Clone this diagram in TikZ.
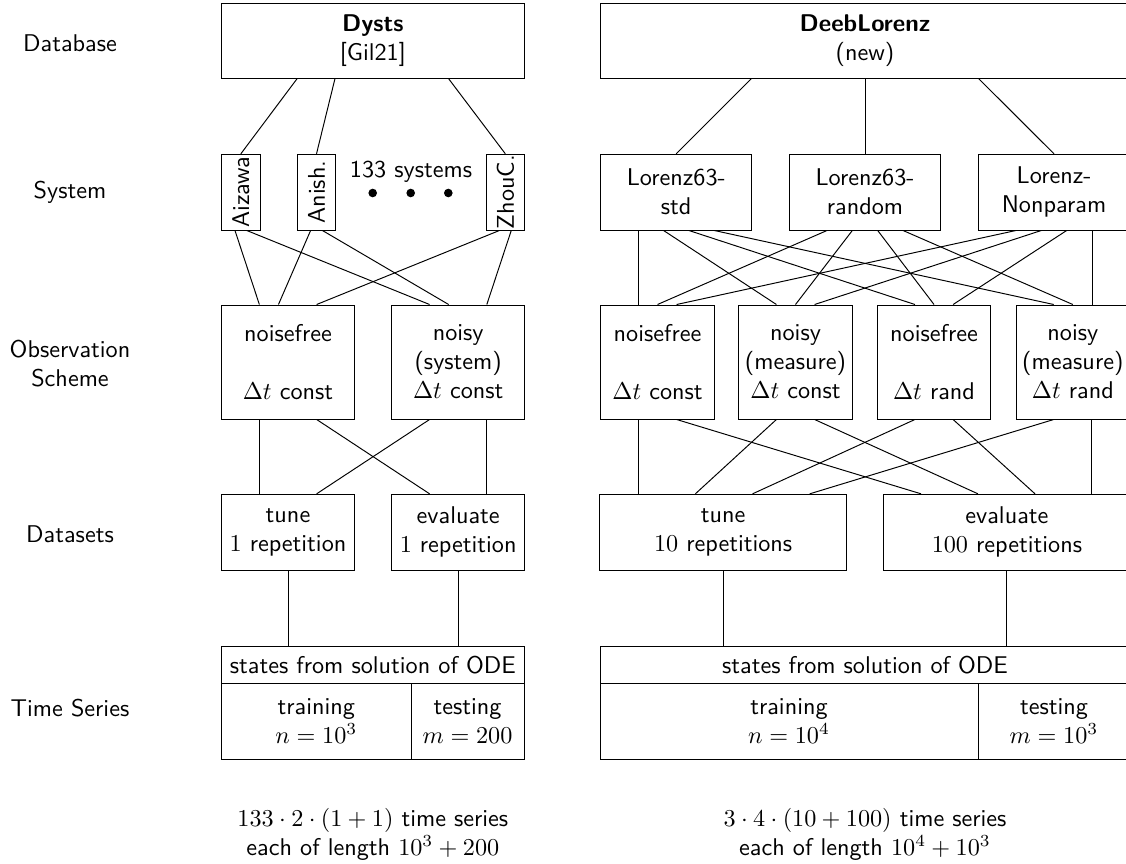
\documentclass[tikz,border=0pt]{standalone}
\usepackage{graphicx}
\usetikzlibrary{calc}
\newcommand{\myln}[4]{\draw ($(#1.south west)!#2!(#1.south east)$) -- ($(#3.north west)!#4!(#3.north east)$);}
\newcommand{\myvln}[3]{\draw ($(#1.south west)!#2!(#1.south east)$) coordinate (tmpc) -- (tmpc |- #3.north);}
\begin{document}
\begin{tikzpicture}[x=0.413pt, y=-0.413pt, font=\sffamily,
  bx/.style={draw, rectangle, inner sep=0pt, align=center},
  sz/.style 2 args={minimum width=#1*0.413pt, minimum height=#2*0.413pt},
  lbl/.style={align=center, inner sep=0pt}]
\useasboundingbox (0,0) rectangle (1126,863);

% row labels
\node[lbl] (rDB) at (70,43) {Database};
\node[lbl] (rSys) at (70,192) {System};
\node[lbl] (rObs) at (70,364) {Observation\\ Scheme};
\node[lbl] (rDS) at (70,534) {Datasets};
\node[lbl] (rTS) at (70,708) {Time Series};

% left column
\node[bx, sz={302.3}{75.3}] (dysts) at (372.85,40.65) {\textbf{Dysts}\\ {[Gil21]}};
\node[bx, sz={38.3}{75.7}] (aiz) at (240.85,192.15) {\rotatebox{90}{Aizawa}};
\node[bx, sz={38.3}{75.7}] (ani) at (316.5,192.15) {\rotatebox{90}{Anish.}};
\node[bx, sz={38.3}{75.7}] (zho) at (505.35,192.15) {\rotatebox{90}{ZhouC.}};
\node[lbl] (nsys) at (411,172) {133 systems};
\fill (372.7,193) circle[radius=4.3];
\fill (410.7,193) circle[radius=4.3];
\fill (448.3,193) circle[radius=4.3];
\node[bx, sz={132.6}{114}] (nfL) at (288,362) {noisefree\\ \mbox{}\\ $\Delta t$ const};
\node[bx, sz={132.6}{114}] (nyL) at (458.2,362) {noisy\\ (system)\\ $\Delta t$ const};
\node[bx, sz={132.6}{75.7}] (tuL) at (288,532.15) {tune\\ $1$ repetition};
\node[bx, sz={132.6}{75.7}] (evL) at (458.2,532.15) {evaluate\\ $1$ repetition};
\node[bx, sz={302.3}{37.3}] (tsLa) at (372.85,664.65) {states from solution of ODE};
\node[bx, sz={189.3}{76}] (tsLb) at (316.35,721.3) {training\\ $n=10^3$};
\node[bx, sz={113}{76}] (tsLc) at (467.5,721.3) {testing\\ $m=200$};
\node[lbl] (sumL) at (372.85,834) {$133\cdot 2\cdot (1+1)$ time series\\ each of length $10^3+200$};

% right column
\node[bx, sz={530}{75.3}] (deeb) at (865,40.65) {\textbf{DeebLorenz}\\ (new)};
\node[bx, sz={151}{75.7}] (std) at (676.2,192.15) {Lorenz63-\\ std};
\node[bx, sz={151}{75.7}] (rnd) at (865,192.15) {Lorenz63-\\ random};
\node[bx, sz={151}{75.7}] (npm) at (1054,192.15) {Lorenz-\\ Nonparam};
\node[bx, sz={113.5}{114}] (o1) at (657.5,362) {noisefree\\ \mbox{}\\ $\Delta t$ const};
\node[bx, sz={113.5}{114}] (o2) at (795.5,362) {noisy\\ (measure)\\ $\Delta t$ const};
\node[bx, sz={113.5}{114}] (o3) at (934,362) {noisefree\\ \mbox{}\\ $\Delta t$ rand};
\node[bx, sz={113.5}{114}] (o4) at (1072.8,362) {noisy\\ (measure)\\ $\Delta t$ rand};
\node[bx, sz={246.6}{75.7}] (tuR) at (723.1,532.15) {tune\\ $10$ repetitions};
\node[bx, sz={246.6}{75.7}] (evR) at (1006.9,532.15) {evaluate\\ $100$ repetitions};
\node[bx, sz={530}{37.3}] (tsRa) at (865,664.65) {states from solution of ODE};
\node[bx, sz={378}{76}] (tsRb) at (789,721.3) {training\\ $n=10^4$};
\node[bx, sz={152}{76}] (tsRc) at (1054,721.3) {testing\\ $m=10^3$};
\node[lbl] (sumR) at (865,834) {$3\cdot 4\cdot (10+100)$ time series\\ each of length $10^4+10^3$};

% left connectors
\myln{dysts}{0.25}{aiz}{0.5}
\myln{dysts}{0.375}{ani}{0.5}
\myln{dysts}{0.75}{zho}{0.5}
\myln{aiz}{0.35}{nfL}{2/7}
\myln{aiz}{0.65}{nyL}{2/7}
\myln{ani}{0.35}{nfL}{3/7}
\myln{ani}{0.65}{nyL}{3/7}
\myln{zho}{0.35}{nfL}{5/7}
\myln{zho}{0.65}{nyL}{5/7}
\myvln{nfL}{2/7}{tuL}
\myln{nfL}{5/7}{evL}{2/7}
\myln{nyL}{2/7}{tuL}{5/7}
\myvln{nyL}{5/7}{evL}
\myvln{tuL}{0.5}{tsLa}
\myvln{evL}{0.5}{tsLa}

% right connectors
\myln{deeb}{2/7}{std}{0.5}
\myvln{deeb}{0.5}{rnd}
\myln{deeb}{5/7}{npm}{0.5}
\myvln{std}{1/4}{o1}
\myln{std}{5/12}{o2}{1/3}
\myln{std}{7/12}{o3}{1/3}
\myln{std}{3/4}{o4}{1/3}
\myln{rnd}{1/4}{o1}{1/2}
\myln{rnd}{5/12}{o2}{1/2}
\myln{rnd}{7/12}{o3}{1/2}
\myln{rnd}{3/4}{o4}{1/2}
\myln{npm}{1/4}{o1}{2/3}
\myln{npm}{5/12}{o2}{2/3}
\myln{npm}{7/12}{o3}{2/3}
\myvln{npm}{3/4}{o4}
\myvln{o1}{1/3}{tuR}
\myln{o2}{1/3}{tuR}{0.388}
\myln{o3}{1/3}{tuR}{0.619}
\myln{o4}{1/3}{tuR}{0.850}
\myln{o1}{2/3}{evR}{0.153}
\myln{o2}{2/3}{evR}{0.383}
\myln{o3}{2/3}{evR}{0.6135}
\myvln{o4}{2/3}{evR}
\myvln{tuR}{0.5}{tsRa}
\myvln{evR}{0.5}{tsRa}
\end{tikzpicture}
\end{document}
